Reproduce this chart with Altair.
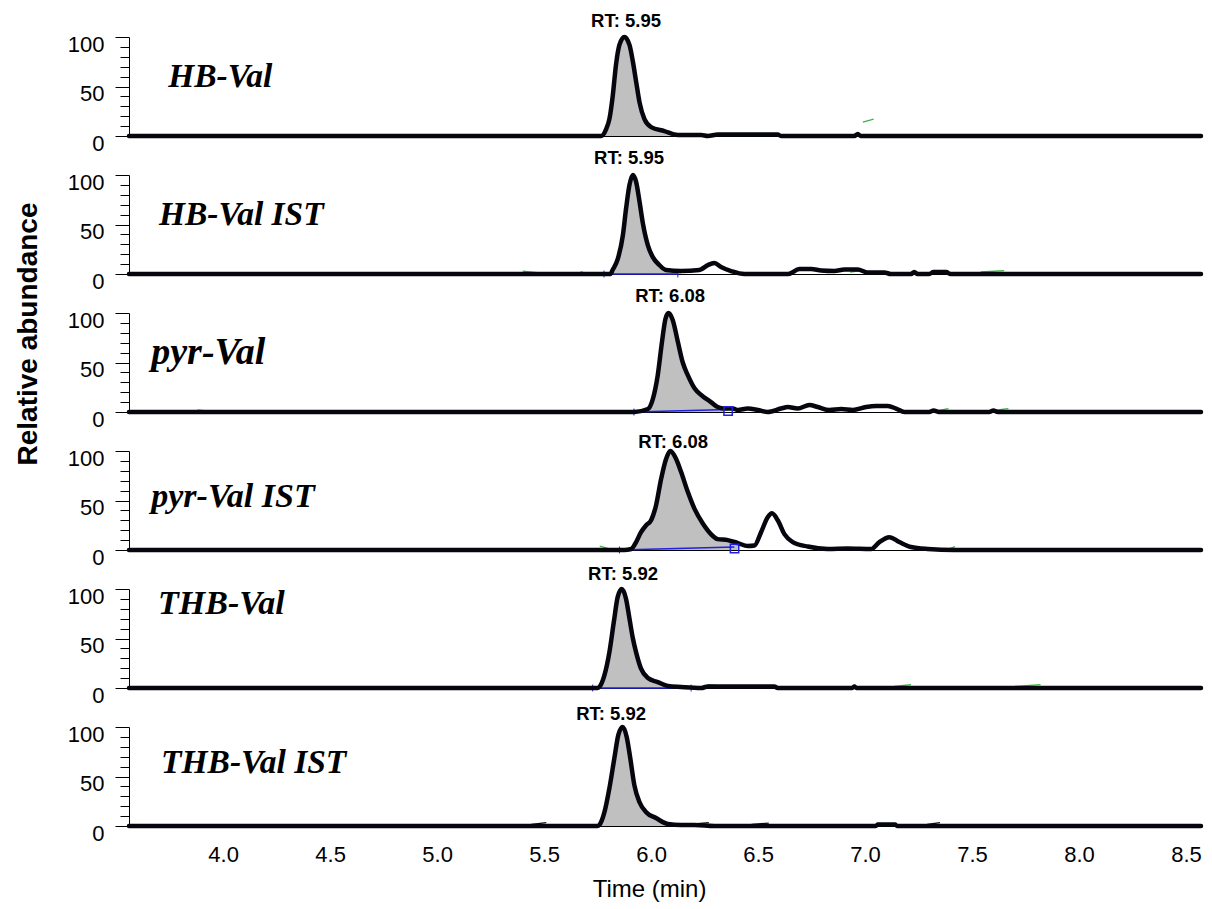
import altair as alt
import pandas as pd

# ---------------- data ----------------
X_DOMAIN = [3.56, 8.57]
X_TICKS = [4.0, 4.5, 5.0, 5.5, 6.0, 6.5, 7.0, 7.5, 8.0, 8.5]
Y_TICKS = [0, 10, 20, 30, 40, 50, 60, 70, 80, 90, 100]

P1_X = [3.56, 5.766, 5.79, 5.805, 5.821, 5.836, 5.852, 5.875, 5.899, 5.915, 5.93, 5.946, 5.969, 6.0, 6.062,
        6.125, 6.234, 6.265, 6.312, 6.592, 6.607, 6.95, 6.966, 6.98, 8.57]
P1_Y = [0, 0, 7, 17, 41, 72, 92, 100, 92, 75, 55, 34, 17, 9, 5, 1, 1, 0, 1.5, 1.5, 0, 0, 2, 0, 0]

P2_X = [3.56, 5.81, 5.82, 5.844, 5.868, 5.883, 5.899, 5.915, 5.93, 5.946, 5.961, 5.985, 6.008, 6.039, 6.07,
        6.14, 6.226, 6.265, 6.296, 6.327, 6.374, 6.436, 6.64, 6.693, 6.748, 6.795, 6.857, 6.903, 6.966, 7.012,
        7.09, 7.121, 7.215, 7.23, 7.245, 7.30, 7.32, 7.379, 7.40, 8.57]
P2_Y = [0, 0, 4, 15, 39, 66, 90, 100, 93, 73, 52, 29, 17, 9, 4, 3, 4, 9, 11, 7, 3, 0, 0, 5, 5, 3.5, 3, 4.5,
        4.5, 1.5, 1.5, 0, 0, 2, 0, 0, 2, 2, 0, 0]

P3_X = [3.56, 5.922, 5.985, 6.008, 6.031, 6.051, 6.067, 6.081, 6.101, 6.125, 6.148, 6.172, 6.203, 6.241, 6.28,
        6.311, 6.343, 6.382, 6.405, 6.452, 6.499, 6.545, 6.607, 6.639, 6.685, 6.74, 6.779, 6.833, 6.888, 6.943,
        7.005, 7.051, 7.106, 7.145, 7.184, 7.30, 7.32, 7.35, 7.58, 7.60, 7.62, 8.57]
P3_Y = [0, 0, 3, 13, 37, 71, 94, 100, 93, 71, 50, 37, 24, 16, 10, 5, 3.5, 3.5, 2, 3.5, 2, 0, 3.5, 5, 3.5, 7,
        5, 2, 3, 2, 5, 6, 6, 3.5, 0, 0, 1.5, 0, 0, 1.5, 0, 0]

P4_X = [3.56, 5.874, 5.907, 5.93, 5.953, 5.977, 6.0, 6.023, 6.047, 6.07, 6.09, 6.117, 6.14, 6.171, 6.202,
        6.241, 6.28, 6.311, 6.358, 6.405, 6.452, 6.483, 6.514, 6.545, 6.565, 6.592, 6.623, 6.662, 6.732, 6.826,
        6.919, 7.028, 7.067, 7.113, 7.16, 7.215, 7.293, 7.417, 8.57]
P4_Y = [0, 0, 1, 8, 18, 25, 30, 45, 72, 92, 100, 92, 79, 59, 42, 27, 16, 11, 10, 7, 4, 4.5, 18, 33, 37, 30,
        16, 8, 3.5, 1, 1.5, 1, 8, 13, 8, 3, 1, 0, 0]

P5_X = [3.56, 5.75, 5.758, 5.782, 5.805, 5.826, 5.844, 5.863, 5.883, 5.899, 5.915, 5.93, 5.953, 5.985, 6.031,
        6.078, 6.14, 6.234, 6.265, 6.576, 6.592, 6.94, 6.95, 6.96, 8.57]
P5_Y = [0, 0, 1, 13, 36, 67, 92, 100, 90, 70, 50, 36, 19.5, 10, 6, 2, 1, 0, 1.5, 1.5, 0, 0, 1.5, 0, 0]

P6_X = [3.56, 5.75, 5.758, 5.782, 5.805, 5.828, 5.847, 5.867, 5.886, 5.903, 5.922, 5.946, 5.977, 6.023,
        6.078, 6.14, 6.202, 6.296, 7.05, 7.06, 7.14, 7.15, 8.57]
P6_Y = [0, 0, 1, 14, 38, 68, 92, 100, 90, 68, 41, 24, 14, 8, 2, 1, 1, 0, 0, 1.5, 1.5, 0, 0]

TRACES = [(P1_X, P1_Y), (P2_X, P2_Y), (P3_X, P3_Y), (P4_X, P4_Y), (P5_X, P5_Y), (P6_X, P6_Y)]

# integrated (shaded) range per panel
FILL_START = [5.766, 5.81, 5.922, 5.874, 5.75, 5.75]
FILL_END = [6.234, 6.14, 6.35, 6.405, 6.17, 6.14]

LABELS = ["HB-Val", "HB-Val IST", "pyr-Val", "pyr-Val IST", "THB-Val", "THB-Val IST"]
LABEL_X = [3.743, 3.70, 3.664, 3.664, 3.696, 3.71]
LABEL_Y = [50, 50, 48, 43, 75, 54]

RT_TEXT = ["RT: 5.95", "RT: 5.95", "RT: 6.08", "RT: 6.08", "RT: 5.92", "RT: 5.92"]
RT_X = [5.883, 5.897, 6.089, 6.103, 5.869, 5.813]
RT_Y = [110, 111, 111, 103, 109, 107]

# integration baselines (panel index, x1, y1, x2, y2)
BL_PANEL = [1, 2, 3, 4]
BL_X1 = [5.78, 5.92, 5.852, 5.727]
BL_Y1 = [0, 0, 0, 0]
BL_X2 = [6.125, 6.36, 6.389, 6.187]
BL_Y2 = [0, 2.5, 3, 0]
# baseline end ticks
BT_PANEL = [1, 1, 2, 3, 4, 4]
BT_X = [5.78, 6.125, 5.92, 5.852, 5.727, 6.187]
# peak-end squares
SQ_PANEL = [2, 3]
SQ_X = [6.36, 6.39]
SQ_Y = [1, 1.5]

# small annotation strokes
MK_PANEL = [0, 1, 1, 1, 1, 2, 2, 2, 3, 3, 4, 4, 4, 5, 5, 5, 5]
MK_X1 = [6.99, 5.40, 5.67, 6.93, 7.54, 3.88, 7.34, 7.60, 5.76, 7.39, 6.265, 7.136, 7.70, 5.44, 6.20, 6.47, 7.29]
MK_Y1 = [14, 3, 2.5, 2, 2, 2, 1.5, 1.5, 4, 1, 3.5, 1.5, 1.5, 1.5, 2, 1.5, 1.5]
MK_X2 = [7.04, 5.48, 5.70, 7.0, 7.65, 3.92, 7.39, 7.67, 5.81, 7.42, 6.35, 7.215, 7.82, 5.51, 6.27, 6.55, 7.35]
MK_Y2 = [17, 1, 0.5, 4, 3.5, 1, 3.5, 3.5, 1, 3.5, 1.5, 3.5, 3.5, 3.5, 3.5, 3, 3.5]
MK_KIND = ["g", "g", "g", "g", "g", "g", "g", "g", "g", "g", "g", "g", "g", "k", "k", "k", "k"]

# ---------------- styling ----------------
W, H = 1072, 99
LINE_COLOR = "#06060f"
FILL_COLOR = "#c0c0c0"
BLUE = "#1f1fe0"
GREEN = "#3cb043"
SANS = "Liberation Sans"
SERIF = "Liberation Serif"
LABEL_SIZE = [33.5, 33.5, 38, 34, 34, 33.5]

xscale = alt.Scale(domain=X_DOMAIN, nice=False, zero=False)
yscale = alt.Scale(domain=[0, 100], nice=False)

yaxis = alt.Axis(
    values=Y_TICKS, title=None, grid=False,
    labelExpr="datum.value % 50 === 0 ? datum.label : ''",
    tickSize={"condition": {"test": "datum.value % 50 === 0", "value": 14}, "value": 9},
    labelFontSize=22, labelFont=SANS, labelColor="black", labelPadding=11, labelOffset=7,
    domainColor="black", tickColor="black", domainWidth=1, tickWidth=1,
)


def xaxis(bottom):
    if bottom:
        return alt.Axis(values=X_TICKS, format=".1f", title="Time (min)", grid=False, ticks=False,
                        labelFontSize=22, labelFont=SANS, labelColor="black", labelPadding=18,
                        labelFlush=False, titleFont=SANS, titleFontSize=24, titleFontWeight="normal",
                        titleColor="black", titlePadding=12, titleX=520, titleAlign="center",
                        domainColor="black", domainWidth=1)
    return alt.Axis(values=X_TICKS, labels=False, ticks=False, title=None, grid=False,
                    domainColor="black", domainWidth=1)


def panel(i):
    xs, ys = TRACES[i]
    df = pd.DataFrame({"x": xs, "y": ys})
    fill = df[(df.x >= FILL_START[i]) & (df.x <= FILL_END[i])]
    X = alt.X("x:Q", scale=xscale, axis=xaxis(i == 5))
    Y = alt.Y("y:Q", scale=yscale, axis=yaxis)

    area = alt.Chart(fill).mark_area(color=FILL_COLOR, interpolate="monotone").encode(x=X, y=Y)
    layers = [area]

    bl = pd.DataFrame({"p": BL_PANEL, "x": BL_X1, "y": BL_Y1, "x2": BL_X2, "y2": BL_Y2})
    bl = bl[bl.p == i]
    if len(bl):
        layers.append(alt.Chart(bl).mark_rule(color=BLUE, strokeWidth=1.6).encode(
            x=X, y=Y, x2="x2:Q", y2="y2:Q"))
    bt = pd.DataFrame({"p": BT_PANEL, "x": BT_X})
    bt = bt[bt.p == i].assign(y=-3.5, y2=3.5)
    if len(bt):
        layers.append(alt.Chart(bt).mark_rule(color=BLUE, strokeWidth=1).encode(
            x=X, y=Y, y2="y2:Q"))

    mk = pd.DataFrame({"p": MK_PANEL, "x": MK_X1, "y": MK_Y1, "x2": MK_X2, "y2": MK_Y2, "k": MK_KIND})
    mk = mk[mk.p == i]
    if len(mk):
        layers.append(alt.Chart(mk).mark_rule(strokeWidth=1.3).encode(
            x=X, y=Y, x2="x2:Q", y2="y2:Q",
            color=alt.Color("k:N", scale=alt.Scale(domain=["g", "k"], range=[GREEN, "#111111"]),
                            legend=None)))

    line = alt.Chart(df).mark_line(color=LINE_COLOR, strokeWidth=4.5, interpolate="monotone",
                                   strokeJoin="round", strokeCap="round").encode(x=X, y=Y)
    layers.append(line)

    sq = pd.DataFrame({"p": SQ_PANEL, "x": SQ_X, "y": SQ_Y})
    sq = sq[sq.p == i]
    if len(sq):
        layers.append(alt.Chart(sq).mark_point(shape="square", size=70, filled=False, color=BLUE,
                                               strokeWidth=1.5, opacity=1).encode(x=X, y=Y))

    rt = pd.DataFrame({"x": [RT_X[i]], "y": [RT_Y[i]], "t": [RT_TEXT[i]]})
    layers.append(alt.Chart(rt).mark_text(font=SANS, fontSize=18.5, fontWeight="bold", color="black",
                                          align="center", baseline="alphabetic").encode(
        x=X, y=Y, text="t:N"))

    lb = pd.DataFrame({"x": [LABEL_X[i]], "y": [LABEL_Y[i]], "t": [LABELS[i]]})
    layers.append(alt.Chart(lb).mark_text(font=SERIF, fontSize=LABEL_SIZE[i], fontWeight="bold",
                                          fontStyle="italic", color="black", align="left",
                                          baseline="alphabetic").encode(x=X, y=Y, text="t:N"))

    if i == 2:
        yt = pd.DataFrame({"t": ["Relative abundance"]})
        layers.append(alt.Chart(yt).mark_text(font=SANS, fontSize=28, fontWeight="bold", color="black",
                                              angle=270, align="center", baseline="middle").encode(
            x=alt.value(-100), y=alt.value(21), text="t:N"))

    return alt.layer(*layers).properties(width=W, height=H)


chart = alt.vconcat(*[panel(i) for i in range(6)], spacing=39, bounds="flush").properties(
    padding={"left": 14, "top": 12, "right": 5, "bottom": 5}
).configure_view(stroke=None)

chart.save("out.html", embed_options={"renderer": "svg", "actions": False})
